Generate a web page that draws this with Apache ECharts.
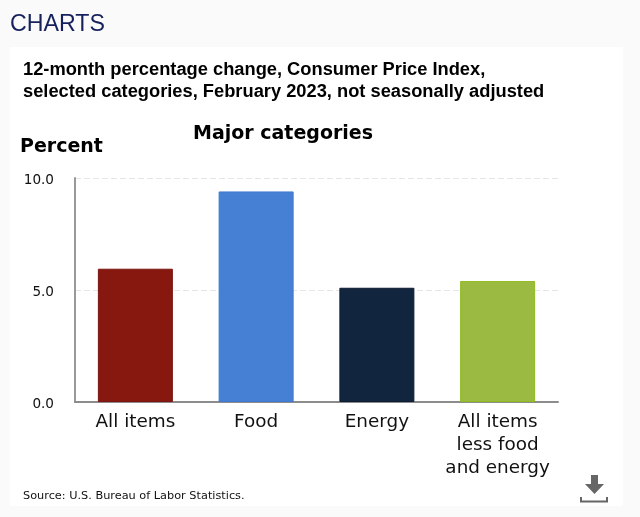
<!DOCTYPE html>
<html>
<head>
<meta charset="utf-8">
<style>
  html, body { margin: 0; padding: 0; background: #fafafa; }
  #chart { width: 640px; height: 517px; }
</style>
<script src="https://cdn.jsdelivr.net/npm/echarts@6/dist/echarts.min.js"></script>
</head>
<body>
<div id="chart"></div>
<script>
const categories = ['All items', 'Food', 'Energy', 'All items\nless food\nand energy'];
const percentChange = [5.95, 9.4, 5.1, 5.4];
const barColors = ['#86180f', '#4580d4', '#12253f', '#9aba42'];
const barBorders = ['#7a1510', '#3f7ad0', '#0d1c30', '#8fbb1e'];
const yTicks = [0, 5, 10];

const sans = '"DejaVu Sans", sans-serif';
const helv = '"Liberation Sans", Arial, sans-serif';

const myChart = echarts.init(document.querySelector('#chart'));

const option = {
  backgroundColor: '#fafafa',
  animation: false,
  graphic: [
    // white card behind the chart
    { type: 'rect', z: -1, shape: { x: 10, y: 47, width: 613, height: 459 }, style: { fill: '#fff' } },
    { type: 'text', x: 10, y: 13, style: { text: 'CHARTS', font: '23.2px ' + helv, fill: '#14215c' } },
    { type: 'text', x: 23, y: 60.5, style: { text: '12-month percentage change, Consumer Price Index,', font: 'bold 18.3px ' + helv, fill: '#000' } },
    { type: 'text', x: 23, y: 82.5, style: { text: 'selected categories, February 2023, not seasonally adjusted', font: 'bold 18.3px ' + helv, fill: '#000' } },
    { type: 'text', x: 193, y: 124.5, style: { text: 'Major categories', font: 'bold 19px ' + sans, fill: '#000' } },
    { type: 'text', x: 20, y: 137.5, style: { text: 'Percent', font: 'bold 19px ' + sans, fill: '#000' } },
    { type: 'text', x: 23, y: 491, style: { text: 'Source: U.S. Bureau of Labor Statistics.', font: '11.3px ' + sans, fill: '#111' } },
    // download icon
    { type: 'polygon', shape: { points: [[591, 475], [598, 475], [598, 484], [604, 484], [594.5, 494], [585, 484], [591, 484]] }, style: { fill: '#666' } },
    { type: 'polyline', shape: { points: [[581, 497], [581, 501.5], [607, 501.5], [607, 497]] }, style: { stroke: '#666', fill: 'none', lineWidth: 2 } }
  ],
  grid: { left: 75, right: 82, top: 178, bottom: 115 },
  xAxis: {
    type: 'category',
    data: categories,
    axisTick: { show: false },
    axisLine: { lineStyle: { color: '#8c8c8c', width: 2 } },
    axisLabel: { color: '#111', fontFamily: sans, fontSize: 18.4, lineHeight: 23, margin: 9, interval: 0 }
  },
  yAxis: {
    type: 'value',
    min: yTicks[0],
    max: yTicks[yTicks.length - 1],
    interval: 5,
    axisLine: { show: true, lineStyle: { color: '#999', width: 2 } },
    axisTick: { show: false },
    // lineHeight + top align pushes the labels a little below their gridline
    axisLabel: { color: '#111', fontFamily: sans, fontSize: 13.6, margin: 21, verticalAlign: 'top', lineHeight: 4, formatter: (v) => v.toFixed(1) },
    splitLine: { lineStyle: { color: '#e6e6e6', type: [6, 3], width: 1 } }
  },
  series: [
    {
      type: 'bar',
      barWidth: 75,
      data: percentChange.map((v, i) => ({
        value: v,
        itemStyle: { color: barColors[i], borderColor: barBorders[i], borderWidth: 1 }
      }))
    }
  ]
};
myChart.setOption(option);
</script>
</body>
</html>
